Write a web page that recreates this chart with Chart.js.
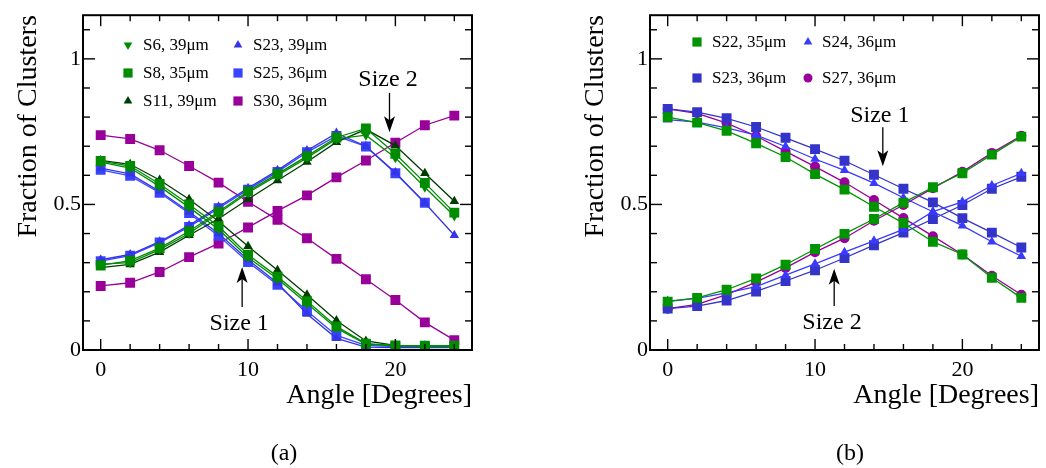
<!DOCTYPE html>
<html>
<head>
<meta charset="utf-8">
<script src="https://cdn.jsdelivr.net/npm/chart.js@4.4.0/dist/chart.umd.min.js"></script>
<style>
  body { margin: 0; background: #fff; width: 1046px; height: 468px; position: relative; overflow: hidden; font-family: "Liberation Serif", serif; }
  #chartA { position: absolute; left: 0; top: 0; }
  #chartB { position: absolute; left: 520px; top: 0; }
  .cap { position: absolute; top: 437px; width: 60px; margin-left: -30px; text-align: center; font-size: 24px; line-height: 30px; color: #000; }
</style>
</head>
<body>
<canvas id="chartA" width="520" height="468"></canvas>
<canvas id="chartB" width="526" height="468"></canvas>
<div class="cap" style="left:284px">(a)</div>
<div class="cap" style="left:850px">(b)</div>
<script>
// Cluster size fractions vs. track angle, two panels.

// Shared x values and tick labels
const angles = [0, 2, 4, 6, 8, 10, 12, 14, 16, 18, 20, 22, 24];
const xTickValues = [0, 10, 20];
const yTickValues = [0, 0.5, 1];

// Panel (a): size 1 (falling) and size 2 (rising) fractions
const s6Size1 = [0.645, 0.625, 0.562, 0.490, 0.415, 0.318, 0.245, 0.160, 0.075, 0.020, 0.014, 0.012, 0.012];
const s8Size1 = [0.649, 0.632, 0.570, 0.500, 0.425, 0.327, 0.252, 0.168, 0.081, 0.022, 0.016, 0.015, 0.015];
const s11Size1 = [0.651, 0.638, 0.584, 0.518, 0.442, 0.356, 0.274, 0.190, 0.101, 0.031, 0.016, 0.015, 0.014];
const s23aSize1 = [0.625, 0.605, 0.545, 0.475, 0.400, 0.310, 0.230, 0.124, 0.040, 0.010, 0.008, 0.008, 0.008];
const s25Size1 = [0.619, 0.598, 0.540, 0.470, 0.392, 0.302, 0.224, 0.134, 0.050, 0.016, 0.012, 0.012];
const s30Size1 = [0.738, 0.725, 0.686, 0.632, 0.575, 0.509, 0.447, 0.384, 0.313, 0.243, 0.172, 0.095, 0.034];

const s6Size2 = [0.295, 0.300, 0.345, 0.400, 0.470, 0.540, 0.600, 0.660, 0.725, 0.738, 0.660, 0.559, 0.460];
const s8Size2 = [0.291, 0.307, 0.350, 0.408, 0.475, 0.545, 0.605, 0.666, 0.730, 0.761, 0.674, 0.574, 0.472];
const s11Size2 = [0.283, 0.294, 0.336, 0.394, 0.451, 0.518, 0.582, 0.646, 0.714, 0.758, 0.702, 0.607, 0.511];
const s23aSize2 = [0.310, 0.328, 0.372, 0.428, 0.492, 0.556, 0.617, 0.685, 0.745, 0.700, 0.610, 0.505, 0.394];
const s25Size2 = [0.305, 0.324, 0.369, 0.423, 0.487, 0.551, 0.612, 0.679, 0.735, 0.699, 0.607, 0.506];
const s30Size2 = [0.220, 0.231, 0.268, 0.319, 0.366, 0.421, 0.478, 0.531, 0.593, 0.651, 0.712, 0.772, 0.805];

// Panel (b)
const s22Size1 = [0.800, 0.781, 0.753, 0.710, 0.663, 0.604, 0.551, 0.492, 0.436, 0.372, 0.328, 0.248, 0.179];
const s24Size1 = [0.791, 0.783, 0.763, 0.738, 0.699, 0.656, 0.617, 0.573, 0.523, 0.475, 0.427, 0.372, 0.322];
const s23bSize1 = [0.828, 0.817, 0.796, 0.766, 0.729, 0.690, 0.650, 0.602, 0.554, 0.507, 0.453, 0.403, 0.352];
const s27Size1 = [0.828, 0.813, 0.779, 0.735, 0.682, 0.630, 0.576, 0.515, 0.453, 0.391, 0.328, 0.255, 0.190];

const s22Size2 = [0.166, 0.179, 0.207, 0.246, 0.293, 0.347, 0.399, 0.450, 0.506, 0.559, 0.607, 0.671, 0.733];
const s24Size2 = [0.168, 0.177, 0.196, 0.218, 0.257, 0.296, 0.336, 0.375, 0.414, 0.475, 0.509, 0.565, 0.607];
const s23bSize2 = [0.142, 0.151, 0.170, 0.201, 0.237, 0.274, 0.316, 0.360, 0.403, 0.450, 0.498, 0.554, 0.595];
const s27Size2 = [0.142, 0.157, 0.190, 0.233, 0.282, 0.336, 0.384, 0.444, 0.498, 0.556, 0.612, 0.677, 0.736];

const SERIF = '"Liberation Serif", "Times New Roman", serif';

// Build a line dataset from a y array
function series(values, color, style, radius, rotation) {
  return {
    data: values.map((v, i) => ({ x: angles[i], y: v })),
    showLine: true,
    borderColor: color,
    backgroundColor: color,
    borderWidth: 1.3,
    pointStyle: style,
    pointRadius: radius,
    pointRotation: rotation || 0,
    pointBorderWidth: 0,
    pointBackgroundColor: color,
  };
}

/**
 * Draws the frame, inward ticks on all sides, the legend and the arrows.
 */
const decorations = {
  id: 'decorations',
  afterDatasetsDraw(chart, args, opts) {
    const { ctx, chartArea: a, scales: { x, y } } = chart;
    ctx.save();
    ctx.strokeStyle = '#000';
    ctx.lineWidth = 1.4;
    const seg = (x0, y0, x1, y1) => { ctx.beginPath(); ctx.moveTo(x0, y0); ctx.lineTo(x1, y1); ctx.stroke(); };

    for (let v = 0; v <= 24; v += 2) {
      const px = x.getPixelForValue(v);
      const len = v % 10 === 0 ? 11 : 6;
      seg(px, a.bottom, px, a.bottom - len);
      seg(px, a.top, px, a.top + len);
    }
    for (let k = 1; k <= 11; k++) {
      const py = y.getPixelForValue(k / 10);
      const len = k % 5 === 0 ? 12 : 7;
      seg(a.left, py, a.left + len, py);
      seg(a.right, py, a.right - len, py);
    }
    ctx.lineWidth = 2;
    ctx.strokeRect(a.left, a.top, a.right - a.left, a.bottom - a.top);

    // legend
    ctx.font = '17px ' + SERIF;
    ctx.textBaseline = 'middle';
    ctx.textAlign = 'left';
    (opts.legend || []).forEach((item) => {
      ctx.fillStyle = item.color;
      ctx.strokeStyle = item.color;
      Chart.helpers.drawPoint(ctx, { pointStyle: item.style, radius: item.radius, rotation: item.rotation || 0, borderWidth: 0 }, item.mx, item.y);
      ctx.fillStyle = '#000';
      ctx.fillText(item.text, item.tx, item.y + 1);
    });

    // arrows with labels
    ctx.font = '24px ' + SERIF;
    ctx.textAlign = 'center';
    (opts.notes || []).forEach((n) => {
      const ax = x.getPixelForValue(n.x);
      const y0 = y.getPixelForValue(n.from);
      const y1 = y.getPixelForValue(n.to);
      const dir = y1 > y0 ? 1 : -1;
      ctx.strokeStyle = '#000';
      ctx.fillStyle = '#000';
      ctx.lineWidth = 1.3;
      seg(ax, y0, ax, y1 - dir * 10);
      ctx.beginPath();
      ctx.moveTo(ax, y1);
      ctx.lineTo(ax - 5.5, y1 - dir * 16);
      ctx.lineTo(ax, y1 - dir * 12);
      ctx.lineTo(ax + 5.5, y1 - dir * 16);
      ctx.closePath();
      ctx.fill();
      ctx.fillText(n.text, x.getPixelForValue(n.tx), y.getPixelForValue(n.ty));
    });
    ctx.restore();
  },
};

function makeChart(id, datasets, pad, legend, notes) {
  const ctx = document.getElementById(id).getContext('2d');
  return new Chart(ctx, {
    type: 'scatter',
    data: { datasets },
    options: {
      responsive: false,
      animation: false,
      devicePixelRatio: 1,
      layout: { padding: pad },
      plugins: {
        legend: { display: false },
        tooltip: { enabled: false },
        decorations: { legend, notes },
      },
      scales: {
        x: {
          type: 'linear',
          min: -1.2,
          max: 25.2,
          grid: { display: false, drawTicks: false },
          border: { display: false },
          afterBuildTicks: (axis) => { axis.ticks = xTickValues.map((v) => ({ value: v })); },
          afterFit: (axis) => { axis.height = 62; },
          ticks: { color: '#000', padding: 7, maxRotation: 0, autoSkip: false, font: { family: SERIF, size: 22 }, callback: (v) => String(v) },
          title: { display: true, text: 'Angle [Degrees]', align: 'end', color: '#000', padding: 0, font: { family: SERIF, size: 28, lineHeight: 1.2 } },
        },
        y: {
          type: 'linear',
          min: 0,
          max: 1.15,
          grid: { display: false, drawTicks: false },
          border: { display: false },
          afterBuildTicks: (axis) => { axis.ticks = yTickValues.map((v) => ({ value: v })); },
          afterFit: (axis) => { axis.width = 83; },
          ticks: { color: '#000', padding: 2, autoSkip: false, font: { family: SERIF, size: 22 }, callback: (v) => String(v) },
          title: { display: true, text: 'Fraction of Clusters', align: 'end', color: '#000', padding: { top: 12, bottom: 0 }, font: { family: SERIF, size: 28, lineHeight: 1.2 } },
        },
      },
    },
    plugins: [decorations],
  });
}

const green = '#008c00';
const darkGreen = '#003c00';
const blueTri = '#3535e6';
const blueSq = '#3a44ff';
const purple = '#990099';

makeChart('chartA', [
  series(s6Size1, green, 'triangle', 5.5, 180),
  series(s6Size2, green, 'triangle', 5.5, 180),
  series(s8Size1, green, 'rect', 7),
  series(s8Size2, green, 'rect', 7),
  series(s11Size1, darkGreen, 'triangle', 5.5),
  series(s11Size2, darkGreen, 'triangle', 5.5),
  series(s23aSize1, blueTri, 'triangle', 5.5),
  series(s23aSize2, blueTri, 'triangle', 5.5),
  series(s25Size1, blueSq, 'rect', 7),
  series(s25Size2, blueSq, 'rect', 7),
  series(s30Size1, purple, 'rect', 7),
  series(s30Size2, purple, 'rect', 7),
], { left: 0, top: 7, right: 48, bottom: 56 }, [
  { text: 'S6, 39\u03bcm', color: green, style: 'triangle', rotation: 180, radius: 5, mx: 128, tx: 143, y: 45 },
  { text: 'S8, 35\u03bcm', color: green, style: 'rect', radius: 6.5, mx: 128, tx: 143, y: 73 },
  { text: 'S11, 39\u03bcm', color: darkGreen, style: 'triangle', radius: 5, mx: 128, tx: 143, y: 101 },
  { text: 'S23, 39\u03bcm', color: blueTri, style: 'triangle', radius: 5, mx: 238, tx: 253, y: 45 },
  { text: 'S25, 36\u03bcm', color: blueSq, style: 'rect', radius: 6.5, mx: 238, tx: 253, y: 73 },
  { text: 'S30, 36\u03bcm', color: purple, style: 'rect', radius: 6.5, mx: 238, tx: 253, y: 101 },
], [
  { text: 'Size 2', x: 19.6, from: 0.883, to: 0.748, tx: 19.5, ty: 0.93 },
  { text: 'Size 1', x: 9.6, from: 0.148, to: 0.285, tx: 9.4, ty: 0.091 },
]);

const green2 = '#009400';
const blue2 = '#3a3aff';
const indigo = '#3434c8';

makeChart('chartB', [
  series(s22Size1, green2, 'rect', 7),
  series(s22Size2, green2, 'rect', 7),
  series(s24Size1, blue2, 'triangle', 5.5),
  series(s24Size2, blue2, 'triangle', 5.5),
  series(s23bSize1, indigo, 'rect', 7),
  series(s23bSize2, indigo, 'rect', 7),
  series(s27Size1, purple, 'circle', 5),
  series(s27Size2, purple, 'circle', 5),
], { left: 47, top: 7, right: 6, bottom: 56 }, [
  { text: 'S22, 35\u03bcm', color: green2, style: 'rect', radius: 6.5, mx: 177, tx: 192, y: 42 },
  { text: 'S23, 36\u03bcm', color: indigo, style: 'rect', radius: 6.5, mx: 177, tx: 192, y: 78 },
  { text: 'S24, 36\u03bcm', color: blue2, style: 'triangle', radius: 5, mx: 288, tx: 302, y: 42 },
  { text: 'S27, 36\u03bcm', color: purple, style: 'circle', radius: 4.5, mx: 288, tx: 302, y: 78 },
], [
  { text: 'Size 1', x: 14.6, from: 0.765, to: 0.631, tx: 14.4, ty: 0.805 },
  { text: 'Size 2', x: 11.3, from: 0.151, to: 0.279, tx: 11.15, ty: 0.094 },
]);
</script>
</body>
</html>
